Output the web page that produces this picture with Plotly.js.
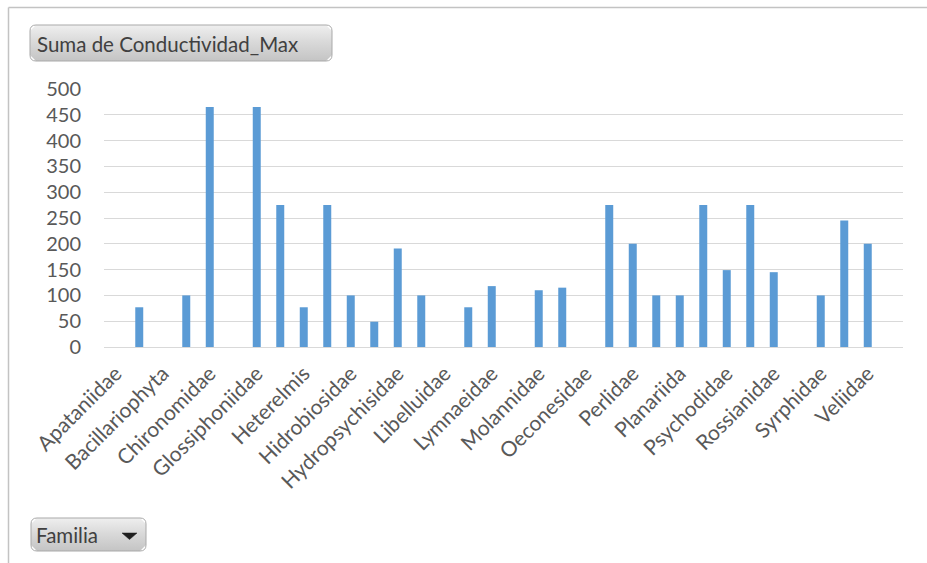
<!DOCTYPE html>
<html>
<head>
<meta charset="utf-8">
<script src="https://cdn.plot.ly/plotly-3.0.1.min.js"></script>
<style>
  html, body { margin: 0; padding: 0; background: #ffffff; }
  #chart { width: 927px; height: 563px; }
</style>
</head>
<body>
<div id="chart"></div>
<script>
// Families in pivot order (alphabetical, blank item last)
const familias = [
  "Apataniidae", "Athericidae", "Bacillariophyta", "Baetidae",
  "Chironomidae", "Elmidae", "Glossiphoniidae", "Gripopterygidae",
  "Heterelmis", "Hexatoma", "Hidrobiosidae", "Hyalellidae",
  "Hydropsychisidae", "Leptoceridae", "Libelluidae", "Limnephilidae",
  "Lymnaeidae", "Megapodagrionidae", "Molannidae", "Naucoridae",
  "Oeconesidae", "Oligochaeta", "Perlidae", "Physidae",
  "Planariida", "Polycentropodidae", "Psychodidae", "Ptilodactylidae",
  "Rossianidae", "Simuliidae", "Syrphidae", "Tipulidae",
  "Veliidae", "(en blanco)"
];

// Suma de Conductividad_Max per family (null = no value)
const conductividadMax = [
  null, 77, null, 100,
  465, null, 465, 275,
  77, 275, 100, 49,
  191, 100, null, 77,
  118, null, 110, 115,
  null, 275, 200, 100,
  100, 275, 149, 275,
  145, null, 100, 245,
  200, null
];

// Category labels shown along the axis (every other family)
const etiquetasEje = familias.filter((f, i) => i % 2 === 0 && i < 33);

const yTicks = [0, 50, 100, 150, 200, 250, 300, 350, 400, 450, 500];

const W = 927, H = 563;
const FONT = "Lato, 'Open Sans', sans-serif";

// rounded rectangle path in pixel space (overlay axes x2/y2)
function roundRect(x0, y0, x1, y1, r) {
  return `M${x0 + r},${y0} L${x1 - r},${y0} Q${x1},${y0} ${x1},${y0 + r} ` +
         `L${x1},${y1 - r} Q${x1},${y1} ${x1 - r},${y1} ` +
         `L${x0 + r},${y1} Q${x0},${y1} ${x0},${y1 - r} ` +
         `L${x0},${y0 + r} Q${x0},${y0} ${x0 + r},${y0} Z`;
}

function buttonTrace(x0, y0, x1, y1) {
  // outline of a rounded pivot-field button, filled with a soft vertical gradient
  const r = 6, xs = [], ys = [];
  const pts = [
    [x0 + r, y0], [x1 - r, y0], [x1, y0 + r], [x1, y1 - r],
    [x1 - r, y1], [x0 + r, y1], [x0, y1 - r], [x0, y0 + r], [x0 + r, y0]
  ];
  pts.forEach(p => { xs.push(p[0]); ys.push(p[1]); });
  return {
    type: "scatter", mode: "lines", x: xs, y: ys,
    xaxis: "x2", yaxis: "y2",
    fill: "toself",
    fillgradient: {
      type: "vertical",
      colorscale: [[0, "#c4c4c4"], [0.55, "#dadada"], [1, "#efefef"]]
    },
    line: { color: "rgba(0,0,0,0)", width: 0 },
    hoverinfo: "skip", showlegend: false
  };
}

const bars = {
  type: "bar",
  x: familias,
  y: conductividadMax,
  marker: { color: "#5B9BD5" },
  hovertemplate: "%{x}: %{y}<extra></extra>",
  showlegend: false
};

const triangle = {
  type: "scatter", mode: "lines",
  x: [122, 137, 129.5, 122], y: [533, 533, 539.5, 533],
  xaxis: "x2", yaxis: "y2",
  fill: "toself", fillcolor: "#1f1f1f",
  line: { color: "#1f1f1f", width: 0.5 },
  hoverinfo: "skip", showlegend: false
};

const data = [
  bars,
  buttonTrace(30, 25, 332, 61),
  buttonTrace(31, 518, 146, 551),
  triangle
];

const layout = {
  width: W, height: H,
  margin: { l: 0, r: 0, t: 0, b: 0 },
  paper_bgcolor: "#ffffff",
  plot_bgcolor: "rgba(0,0,0,0)",
  font: { family: FONT, color: "#595959" },
  bargap: 0.66,
  xaxis: {
    domain: [104 / W, 903 / W],
    type: "category",
    tickmode: "array",
    tickvals: etiquetasEje,
    ticktext: etiquetasEje,
    tickangle: -45,
    tickfont: { family: FONT, size: 21, color: "#595959" },
    ticks: "",
    ticklabelstandoff: 5,
    showgrid: false,
    showline: true,
    linecolor: "#d9d9d9",
    linewidth: 1,
    zeroline: false,
    fixedrange: true
  },
  yaxis: {
    domain: [(H - 347) / H, (H - 89) / H],
    range: [0, 500],
    tickmode: "array",
    tickvals: yTicks,
    tickfont: { family: FONT, size: 20, color: "#595959" },
    ticks: "",
    ticklabelstandoff: 22,
    showgrid: true,
    gridcolor: "#d9d9d9",
    gridwidth: 1,
    zeroline: false,
    showline: false,
    fixedrange: true
  },
  // full-canvas overlay in pixel units for the frame and field buttons
  xaxis2: {
    domain: [0, 1], range: [0, W], anchor: "y2",
    visible: false, fixedrange: true
  },
  yaxis2: {
    domain: [0, 1], range: [H, 0], anchor: "x2",
    visible: false, fixedrange: true
  },
  shapes: [
    { type: "line", xref: "x2", yref: "y2", x0: 8.5, y0: 7.5, x1: 8.5, y1: H,
      line: { color: "#c3c3c3", width: 1.5 } },
    { type: "line", xref: "x2", yref: "y2", x0: 8.5, y0: 7.5, x1: W, y1: 7.5,
      line: { color: "#c3c3c3", width: 1.5 } },
    { type: "path", xref: "x2", yref: "y2", path: roundRect(30, 25, 332, 61, 6),
      line: { color: "#a9a9a9", width: 1 }, fillcolor: "rgba(0,0,0,0)" },
    { type: "path", xref: "x2", yref: "y2", path: roundRect(31, 518, 146, 551, 6),
      line: { color: "#a9a9a9", width: 1 }, fillcolor: "rgba(0,0,0,0)" }
  ],
  annotations: [
    { xref: "x2", yref: "y2", x: 35, y: 44, xanchor: "left", yanchor: "middle",
      text: "Suma de Conductividad_Max", showarrow: false,
      font: { family: FONT, size: 20.5, color: "#404040" } },
    { xref: "x2", yref: "y2", x: 34, y: 535, xanchor: "left", yanchor: "middle",
      text: "Familia", showarrow: false,
      font: { family: FONT, size: 20.5, color: "#404040" } }
  ]
};

Plotly.newPlot("chart", data, layout, { displayModeBar: false, staticPlot: true });
</script>
</body>
</html>
